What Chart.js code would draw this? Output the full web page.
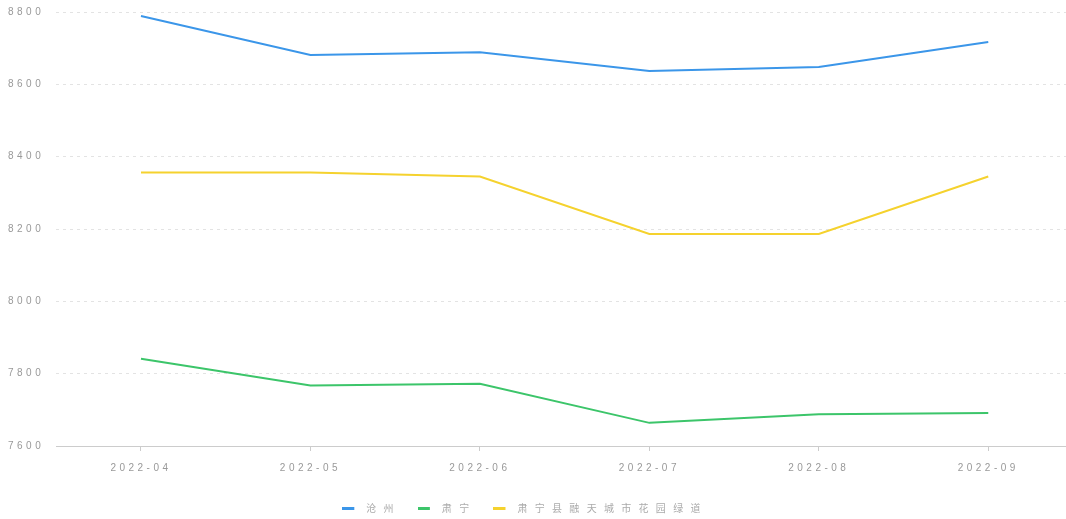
<!DOCTYPE html>
<html>
<head>
<meta charset="utf-8">
<script src="https://cdn.jsdelivr.net/npm/chart.js@4.4.0/dist/chart.umd.min.js"></script>
<style>
html,body{margin:0;padding:0;background:#fff;overflow:hidden;width:1066px;height:519px;}
#wrap{width:1074px;height:519px;}
</style>
</head>
<body>
<div id="wrap"><canvas id="c" width="1074" height="519"></canvas></div>
<script>
const categories = ['2022-04', '2022-05', '2022-06', '2022-07', '2022-08', '2022-09'];
const seriesNames = ['沧州', '肃宁', '肃宁县融天城市花园绿道'];
const cangzhou = [8789, 8681, 8689, 8637, 8648, 8717];
const suning = [7841, 7767, 7772, 7664, 7688, 7691];
const rongtian = [8356, 8356, 8345, 8186, 8186, 8345];
const yMin = 7600, yMax = 8800, yStep = 200;

const AXIS_LS = '3.5px', LEGEND_LS = '7.3px';

function legendMark(color) {
  const cv = document.createElement('canvas');
  cv.width = 19; cv.height = 3;
  const g = cv.getContext('2d');
  g.fillStyle = color;
  g.fillRect(0, 0, 12, 3);
  return cv;
}

const spacing = {
  id: 'spacing',
  beforeInit(c){ c.ctx.letterSpacing = AXIS_LS; },
  afterInit(c){
    const L = c.legend;
    if (!L) return;
    const of = L.fit.bind(L), od = L.draw.bind(L);
    L.fit = function(){ c.ctx.letterSpacing = LEGEND_LS; of(); c.ctx.letterSpacing = AXIS_LS; };
    L.draw = function(){ c.ctx.letterSpacing = LEGEND_LS; od(); c.ctx.letterSpacing = AXIS_LS; };
  },
  beforeUpdate(c){ c.ctx.letterSpacing = AXIS_LS; },
  beforeLayout(c){ c.ctx.letterSpacing = AXIS_LS; },
  afterLayout(c){
    if (c.legend) {
      c.legend.left -= 10; c.legend.right -= 10;
      c.legend.top += 1; c.legend.bottom += 1;
    }
  },
  beforeDraw(c){ c.ctx.letterSpacing = AXIS_LS; }
};

const mk = (label, data, color) => ({
  label, data, borderColor: color, backgroundColor: color,
  borderWidth: 2, pointRadius: 0, pointHoverRadius: 0, tension: 0, fill: false,
  pointStyle: legendMark(color)
});

const chart = new Chart(document.getElementById('c'), {
  type: 'line',
  data: {
    labels: categories,
    datasets: [
      mk(seriesNames[0], cangzhou, '#3b96e9'),
      mk(seriesNames[1], suning, '#3cc56a'),
      mk(seriesNames[2], rongtian, '#f5d22e')
    ]
  },
  options: {
    responsive: false,
    animation: false,
    devicePixelRatio: 1,
    layout: { padding: { top: 0, left: -4, right: 0, bottom: -3 } },
    font: { family: 'Liberation Sans, Arial, sans-serif', size: 10 },
    plugins: {
      tooltip: { enabled: false },
      legend: {
        position: 'bottom',
        labels: {
          usePointStyle: true,
          pointStyleWidth: 19,
          boxWidth: 19,
          color: '#aaa',
          padding: 17,
          font: { family: 'Noto Sans CJK SC, sans-serif', size: 10 }
        }
      }
    },
    scales: {
      x: {
        offset: true,
        grid: { display: true, drawOnChartArea: false, drawTicks: true, tickLength: 5, color: '#ccc', tickColor: '#ccc', offset: false },
        border: { display: true, color: '#ccc' },
        ticks: { color: '#999', padding: 11, maxRotation: 0, font: { family: 'Liberation Sans, sans-serif', size: 10 } }
      },
      y: {
        min: yMin, max: yMax,
        afterFit(s){ s.paddingTop = 12; },
        grid: { color: '#e3e3e3', drawTicks: false, lineWidth: 1 },
        border: { display: false, dash: [3, 4] },
        ticks: {
          stepSize: yStep, color: '#999', padding: 12,
          font: { family: 'Liberation Sans, sans-serif', size: 10 },
          callback: v => String(v)
        }
      }
    }
  },
  plugins: [spacing]
});
chart.update();
</script>
</body>
</html>
